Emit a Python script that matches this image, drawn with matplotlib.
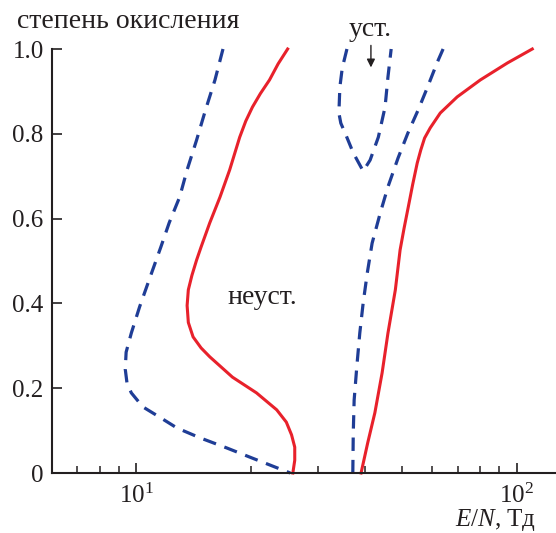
import matplotlib
matplotlib.use("Agg")
import matplotlib.pyplot as plt
from matplotlib.ticker import LogLocator, NullFormatter, FixedLocator

plt.rcParams['font.family'] = ['Liberation Serif', 'DejaVu Serif']
plt.rcParams['mathtext.fontset'] = 'custom'
plt.rcParams['mathtext.rm'] = 'Liberation Serif'
plt.rcParams['mathtext.it'] = 'Liberation Serif:italic'

# left dashed curve (E/N, degree of oxidation)
d1_x = [16.9, 16.1, 15.2, 14.4, 13.6, 13.0, 12.2, 11.6, 10.8, 10.2, 9.7, 9.4,
        9.35, 9.45, 9.7, 10.4, 11.5, 12.8, 14.7, 17.3, 20.2, 25.4]
d1_y = [1.0, 0.927, 0.856, 0.785, 0.715, 0.651, 0.590, 0.533, 0.455, 0.392, 0.330,
        0.285, 0.245, 0.212, 0.189, 0.156, 0.132, 0.106, 0.083, 0.059, 0.035, 0.0]

# left solid curve
r1_x = [25.0, 23.6, 22.4, 21.2, 20.2, 19.4, 18.7, 17.6, 16.6, 15.6, 14.8, 14.4,
        14.0, 13.7, 13.6, 13.7, 14.1, 14.8, 15.6, 17.9, 20.7, 23.4, 24.8, 25.6,
        26.1, 26.1, 25.8]
r1_y = [1.0, 0.965, 0.927, 0.895, 0.863, 0.830, 0.792, 0.715, 0.651, 0.590, 0.533,
        0.502, 0.466, 0.432, 0.395, 0.355, 0.321, 0.295, 0.274, 0.226, 0.189, 0.149,
        0.120, 0.090, 0.061, 0.030, 0.0]

# closed loop (stable region)
d2_x = [35.8, 34.8, 34.3, 34.1, 34.5, 35.4, 37.2, 39.5, 41.2, 43.3, 45.1, 45.9, 46.8]
d2_y = [1.0, 0.955, 0.910, 0.849, 0.825, 0.802, 0.755, 0.712, 0.738, 0.792, 0.863,
        0.934, 1.0]

# right dashed curve
d3_x = [64.1, 61.9, 58.2, 55.1, 51.8, 48.8, 45.9, 43.8, 41.7, 40.5, 39.5, 38.7,
        38.0, 37.4, 37.2, 37.1]
d3_y = [1.0, 0.969, 0.908, 0.856, 0.802, 0.743, 0.675, 0.613, 0.542, 0.472, 0.401,
        0.330, 0.250, 0.172, 0.094, 0.0]

# right solid curve
r2_x = [110, 94.6, 80.3, 69.8, 63.0, 59.3, 57.3, 56.0, 54.8, 53.3, 51.9, 50.6,
        49.4, 48.0, 45.9, 44.3, 42.4, 40.6, 39.0]
r2_y = [1.0, 0.967, 0.927, 0.887, 0.849, 0.814, 0.790, 0.762, 0.731, 0.680, 0.627,
        0.577, 0.526, 0.432, 0.330, 0.236, 0.142, 0.071, 0.0]

yticks = [0, 0.2, 0.4, 0.6, 0.8, 1.0]
ytick_labels = ['0', '0.2', '0.4', '0.6', '0.8', '1.0']

red = '#e8212b'
blue = '#1f3d96'
dark = '#231f20'

fig = plt.figure(figsize=(5.56, 5.33), dpi=100)
ax = fig.add_axes([52 / 556, 60 / 533, 1 - 52 / 556, (473 - 49) / 533])

dash = (4.2, 2.8)
for xs, ys in [(d1_x, d1_y), (d2_x, d2_y), (d3_x, d3_y)]:
    ax.plot(xs, ys, color=blue, lw=2.3, dashes=dash, clip_on=False)
for xs, ys in [(r1_x, r1_y), (r2_x, r2_y)]:
    ax.plot(xs, ys, color=red, lw=2.2, clip_on=False)

ax.set_xscale('log')
ax.set_xlim(6, 127)
ax.set_ylim(0, 1)

ax.xaxis.set_major_locator(FixedLocator([10, 100]))
ax.xaxis.set_minor_locator(LogLocator(base=10, subs=range(2, 10)))
ax.xaxis.set_minor_formatter(NullFormatter())
ax.set_yticks(yticks)
ax.set_yticklabels(ytick_labels)

for s in ['top', 'right']:
    ax.spines[s].set_visible(False)
for s in ['left', 'bottom']:
    ax.spines[s].set_linewidth(1.5)
    ax.spines[s].set_color(dark)

ax.tick_params(axis='both', which='major', direction='in', length=7.5, width=1.2,
               color=dark, labelsize=18, labelcolor=dark)
ax.tick_params(axis='x', which='minor', direction='in', length=5, width=1.1, color=dark)
ax.tick_params(axis='y', pad=6)
ax.tick_params(axis='x', pad=7.5)

ax.text(21.5, 0.415, 'неуст.', fontsize=20, ha='center', va='center', color=dark)
ax.text(41.2, 1.045, 'уст.', fontsize=20, ha='center', va='center', color=dark)
ax.annotate('', xy=(41.4, 0.95), xytext=(41.4, 1.015),
            arrowprops=dict(arrowstyle='-|>', color=dark, lw=1.0, mutation_scale=12),
            annotation_clip=False)

fig.text(17 / 556, 1 - 21 / 533, 'степень окисления', fontsize=20, ha='left',
         va='center', color=dark)
fig.text(536 / 556, 1 - 520 / 533, '$E/N$, Тд', fontsize=18, ha='right',
         va='center', color=dark)

fig.savefig('out.png', dpi=100)
